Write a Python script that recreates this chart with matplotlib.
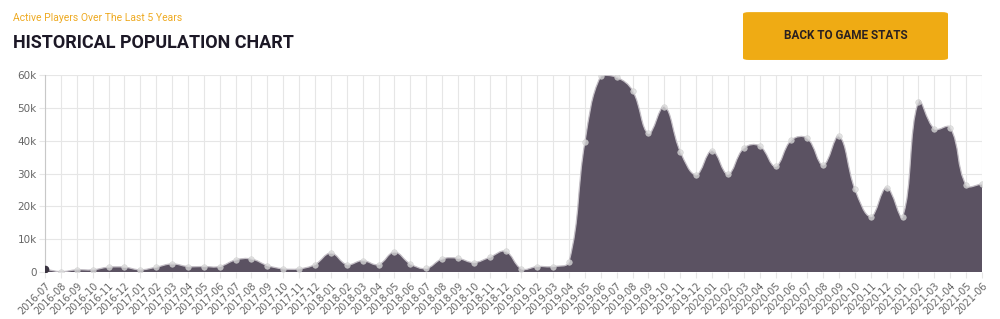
import numpy as np
import matplotlib
matplotlib.use("Agg")
import matplotlib.pyplot as plt
from matplotlib.path import Path
from matplotlib.patches import PathPatch, FancyBboxPatch

# monthly active players
months = ['2016-07', '2016-08', '2016-09', '2016-10', '2016-11', '2016-12',
          '2017-01', '2017-02', '2017-03', '2017-04', '2017-05', '2017-06',
          '2017-07', '2017-08', '2017-09', '2017-10', '2017-11', '2017-12',
          '2018-01', '2018-02', '2018-03', '2018-04', '2018-05', '2018-06',
          '2018-07', '2018-08', '2018-09', '2018-10', '2018-11', '2018-12',
          '2019-01', '2019-02', '2019-03', '2019-04', '2019-05', '2019-06',
          '2019-07', '2019-08', '2019-09', '2019-10', '2019-11', '2019-12',
          '2020-01', '2020-02', '2020-03', '2020-04', '2020-05', '2020-06',
          '2020-07', '2020-08', '2020-09', '2020-10', '2020-11', '2020-12',
          '2021-01', '2021-02', '2021-03', '2021-04', '2021-05', '2021-06']
players = [900, 150, 700, 700, 1500, 1500,
           700, 1500, 2500, 1700, 1700, 1700,
           3700, 4000, 2000, 1000, 1000, 2300,
           5800, 2300, 3500, 2300, 6100, 2500,
           1100, 4000, 4200, 2900, 4500, 6300,
           1000, 1700, 1700, 3200, 39700, 59700,
           59300, 55200, 42200, 50400, 36700, 29600,
           37000, 29800, 37700, 38400, 32200, 40200,
           40700, 32600, 41400, 25200, 16900, 25700,
           16900, 51900, 43600, 44000, 26500, 26800]
y_ticks = [0, 10000, 20000, 30000, 40000, 50000, 60000]
y_labels = ['0', '10k', '20k', '30k', '40k', '50k', '60k']

FILL = '#5b5262'
GRID = '#e6e6e6'
TXT = '#666666'

fig = plt.figure(figsize=(10, 3.19), dpi=100)
ax = fig.add_axes([0.045, 0.147, 0.937, 0.618])

x = np.arange(len(players))
y = np.array(players, dtype=float)

# Chart.js style bezier spline (tension 0.4), distances measured in pixel-ish units
sx, sy = 15.9, 3.28 / 1000
t = 0.4
cp_prev = []
cp_next = []
n = len(x)
for i in range(n):
    p0 = (x[max(i - 1, 0)], y[max(i - 1, 0)])
    p1 = (x[i], y[i])
    p2 = (x[min(i + 1, n - 1)], y[min(i + 1, n - 1)])
    d01 = np.hypot((p1[0] - p0[0]) * sx, (p1[1] - p0[1]) * sy)
    d12 = np.hypot((p2[0] - p1[0]) * sx, (p2[1] - p1[1]) * sy)
    tot = d01 + d12
    s01 = d01 / tot if tot else 0
    s12 = d12 / tot if tot else 0
    fa, fb = t * s01, t * s12
    cp_prev.append((p1[0] - fa * (p2[0] - p0[0]), p1[1] - fa * (p2[1] - p0[1])))
    cp_next.append((p1[0] + fb * (p2[0] - p0[0]), p1[1] + fb * (p2[1] - p0[1])))

verts = [(x[0], 0), (x[0], y[0])]
codes = [Path.MOVETO, Path.LINETO]
line_verts = [(x[0], y[0])]
line_codes = [Path.MOVETO]
for i in range(1, n):
    seg = [cp_next[i - 1], cp_prev[i], (x[i], y[i])]
    seg = [(a, min(max(b, 0), 60000)) for a, b in seg]
    verts += seg
    codes += [Path.CURVE4] * 3
    line_verts += seg
    line_codes += [Path.CURVE4] * 3
verts += [(x[-1], 0), (x[0], 0)]
codes += [Path.LINETO, Path.CLOSEPOLY]

ax.add_patch(PathPatch(Path(verts, codes), facecolor=FILL, edgecolor='none', zorder=2))
ax.add_patch(PathPatch(Path(line_verts, line_codes), facecolor='none',
                       edgecolor='#c4bfc6', lw=0.9, zorder=3))
ax.scatter(x[1:], y[1:], s=16, color='#dcdcdc', edgecolors='#cccccc', lw=0.5,
           alpha=0.75, zorder=4)
ax.scatter(x[:1], y[:1], s=20, color='#3a3440', zorder=4)

ax.set_xlim(0, n - 1)
ax.set_ylim(0, 60000)
ax.set_xticks(x)
ax.set_xticklabels(months, rotation=45, ha='right', rotation_mode='anchor',
                   fontsize=7, color=TXT)
ax.set_yticks(y_ticks)
ax.set_yticklabels(y_labels, fontsize=7.5, color=TXT)
ax.grid(True, color=GRID, lw=0.8, zorder=0)
ax.set_axisbelow(True)
for side in ['top', 'right', 'bottom']:
    ax.spines[side].set_visible(False)
ax.spines['left'].set_color('#c8c8c8')
ax.tick_params(axis='both', length=4, color=GRID, pad=2)

# header
fig.text(0.013, 0.945, 'Active Players Over The Last 5 Years', fontsize=7.5,
         color='#eeaa22', va='center', fontfamily='Roboto')
fig.text(0.013, 0.865, 'HISTORICAL POPULATION CHART', fontsize=13,
         fontweight='bold', color='#1c1826', va='center', fontfamily='Roboto')

btn = FancyBboxPatch((0.743, 0.812), 0.205, 0.15, boxstyle='round,pad=0,rounding_size=0.006',
                     transform=fig.transFigure, facecolor='#efab14', edgecolor='none')
fig.patches.append(btn)
fig.text(0.846, 0.888, 'BACK TO GAME STATS', fontsize=8.5, fontweight='bold',
         color='#2a2020', ha='center', va='center', fontfamily='Roboto')

fig.savefig('out.png', dpi=100)
